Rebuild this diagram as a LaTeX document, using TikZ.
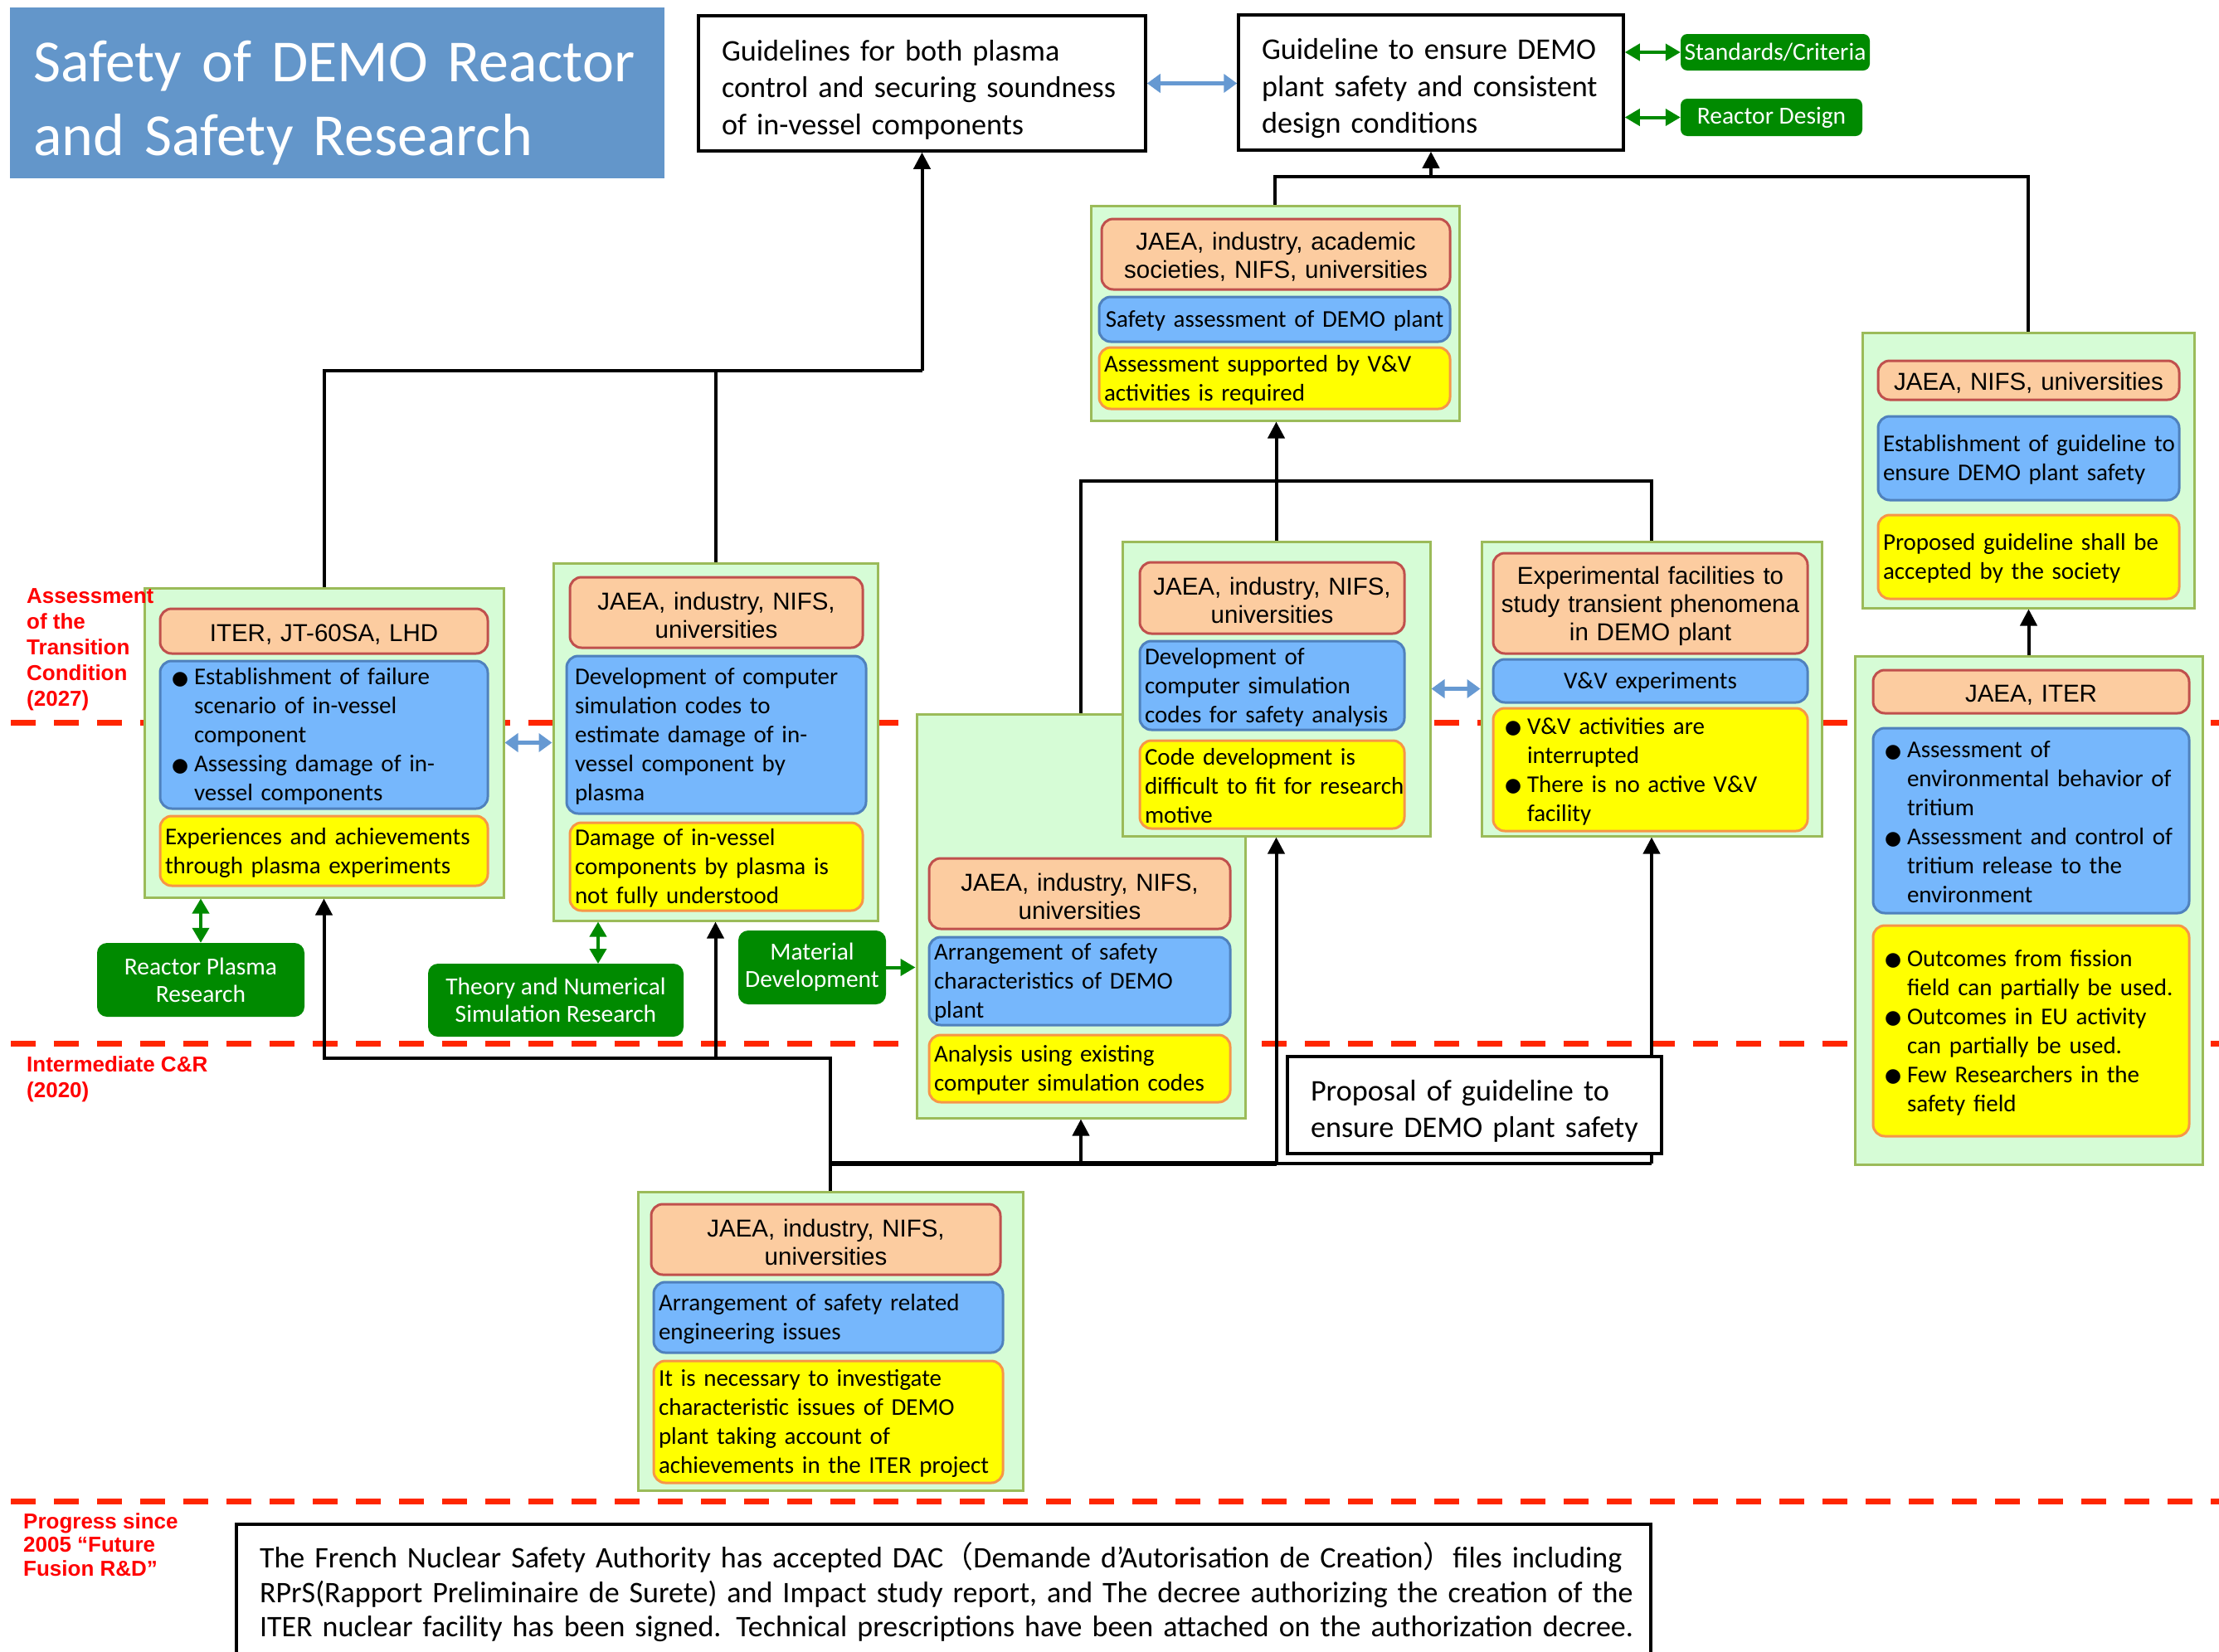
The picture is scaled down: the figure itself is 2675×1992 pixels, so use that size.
\documentclass[tikz,border=0pt]{standalone}
\usepackage{fontspec}
\setmainfont{Carlito}
\newfontfamily\arf{Liberation Sans}
\newfontfamily\djv{DejaVu Sans}
\newfontfamily\cjk{Noto Sans CJK JP}
\usetikzlibrary{arrows.meta}
\definecolor{contF}{RGB}{214,252,214}
\definecolor{contB}{RGB}{155,187,89}
\definecolor{hdrF}{RGB}{252,204,160}
\definecolor{hdrB}{RGB}{192,80,77}
\definecolor{blF}{RGB}{118,183,252}
\definecolor{blB}{RGB}{79,129,189}
\definecolor{ylF}{RGB}{255,255,0}
\definecolor{ylB}{RGB}{247,150,70}
\definecolor{gbt}{RGB}{0,138,0}
\definecolor{ttl}{RGB}{99,150,202}
\definecolor{dred}{RGB}{255,38,0}
\definecolor{lred}{RGB}{255,0,0}
\definecolor{barr}{RGB}{102,153,210}
\newcommand\cbf{\fontsize{29}{35}\selectfont}
\newcommand\arff{\arf\fontsize{29.5}{34}\selectfont}
\newcommand\gbf{\fontsize{29.5}{33}\selectfont}
\newcommand\bigf{\fontsize{36.2}{44.5}\selectfont}
\newcommand\ttlf{\fontsize{72}{89}\selectfont}
\newcommand\notef{\fontsize{36}{41.5}\selectfont}
\newcommand\bul{\hspace*{8pt}\makebox[27pt][l]{\djv\fontsize{23}{23}\selectfont\raisebox{0.5pt}{●}}}
\newcommand\hng{\hspace*{35pt}}
\tikzset{
  cont/.style 2 args={draw=contB, fill=contF, line width=3, minimum width=#1, minimum height=#2, inner sep=0},
  sub/.code 2 args={\pgfmathsetmacro\mytw{#1-12}\edef\mytmp{\noexpand\tikzset{minimum width=#1, minimum height=#2, text width=\mytw pt}}\mytmp\tikzset{line width=3, rounded corners=14, inner xsep=6, inner ysep=0, align=left, font=\cbf, text height=24pt}},
  hdr/.style 2 args={sub={#1}{#2}, draw=hdrB, fill=hdrF, align=center, font=\arff, text height=28pt},
  blu/.style 2 args={sub={#1}{#2}, draw=blB, fill=blF},
  yel/.style 2 args={sub={#1}{#2}, draw=ylB, fill=ylF},
  gbtn/.style 2 args={fill=gbt, text=white, rounded corners=12, minimum width=#1, minimum height=#2, inner sep=0, align=center, font=\gbf},
  wbox/.code 2 args={\pgfmathsetmacro\mytw{#1-56}\edef\mytmp{\noexpand\tikzset{minimum width=#1, minimum height=#2, text width=\mytw pt}}\mytmp\tikzset{draw=black, fill=white, line width=3.5, inner xsep=28, inner ysep=0, align=left, font=\bigf, text height=40pt}},
  lab/.style={align=left, inner sep=0, text=lred, anchor=north west},
  redline/.style={draw=dred, line width=7, dash pattern=on 30pt off 22pt},
  conn/.style={draw=black, line width=4},
  trunk/.style={draw=black, line width=6},
  arr/.style={-{Triangle[length=20pt,width=20pt]}},
  bdarr/.style={draw=barr, line width=5, {Triangle[length=16pt,width=22pt]}-{Triangle[length=16pt,width=22pt]}},
  gdarr/.style={draw=gbt, line width=4, {Triangle[length=18pt,width=20pt]}-{Triangle[length=18pt,width=20pt]}},
  garr/.style={draw=gbt, line width=4, -{Triangle[length=18pt,width=20pt]}}
}
\begin{document}
\begin{tikzpicture}[x=1pt,y=-1pt]
\useasboundingbox (0,0) rectangle (2675,1992);
\clip (0,0) rectangle (2675,1992);
\fill[white] (0,0) rectangle (2675,1992);

% time lines
\draw[redline] (13,871) -- (2675,871);
\draw[redline] (13,1258) -- (2675,1258);
\draw[redline] (13,1810) -- (2675,1810);

% title
\node[fill=ttl, minimum width=789, minimum height=206, text width=733pt, inner xsep=28, inner ysep=0, align=left, text=white, font=\ttlf, text height=74pt] (title) at (406.5,112) {\mbox{Safety of DEMO Reactor}\\\mbox{and Safety Research}};

% top guideline boxes
\node[wbox={539}{163}] (g1) at (1111.5,100.5) {\mbox{Guidelines for both plasma}\\\mbox{control and securing soundness}\\\mbox{of in-vessel components}};
\node[wbox={464}{163}] (g2) at (1725,99.5) {\mbox{Guideline to ensure DEMO}\\\mbox{plant safety and consistent}\\\mbox{design conditions}};
\node[gbtn={228}{44}, rounded corners=8] (std) at (2140,63) {Standards/Criteria};
\node[gbtn={219}{45}, rounded corners=8] (rdes) at (2135.5,141.5) {Reactor Design};

% academic container
\node[cont={444}{259}] (acad) at (1537,377.5) {};
\node[hdr={420}{85}] (acadh) at (1538,306.5) {JAEA, industry, academic\\societies, NIFS, universities};
\node[blu={423}{54}, align=center] (acadb) at (1536.5,385) {\mbox{Safety assessment of DEMO plant}};
\node[yel={423}{74}] (acady) at (1536.5,456) {\mbox{Assessment supported by V\&V}\\\mbox{activities is required}};

% ITER container
\node[cont={433}{373}] (iter) at (390.5,895.5) {};
\node[hdr={395}{54}] (iterh) at (390.5,761) {ITER, JT-60SA, LHD};
\node[blu={395}{178}] (iterb) at (390.5,886) {\bul\mbox{Establishment of failure}\\\hng\mbox{scenario of in-vessel}\\\hng\mbox{component}\\\bul\mbox{Assessing damage of in-}\\\hng\mbox{vessel components}};
\node[yel={395}{84}] (itery) at (390.5,1026) {\mbox{Experiences and achievements}\\\mbox{through plasma experiments}};

% second left container
\node[cont={391}{431}] (ltwo) at (862.5,894.5) {};
\node[hdr={353}{85}] (ltwoh) at (863.5,738.5) {JAEA, industry, NIFS,\\universities};
\node[blu={353}{190}, inner xsep=10] (ltwob) at (863.5,886) {\mbox{Development of computer}\\\mbox{simulation codes to}\\\mbox{estimate damage of in-}\\\mbox{vessel component by}\\\mbox{plasma}};
\node[yel={353}{106}] (ltwoy) at (863.5,1045) {\mbox{Damage of in-vessel}\\\mbox{components by plasma is}\\\mbox{not fully understood}};

% green research buttons
\node[gbtn={250}{89}] (rpr) at (242,1181.5) {Reactor Plasma\\Research};
\node[gbtn={308}{88}] (tns) at (670,1206) {Theory and Numerical\\Simulation Research};
\node[gbtn={178}{89}] (mat) at (979,1166.5) {Material\\Development};

% middle container
\node[cont={396}{487}] (mid) at (1303,1104.5) {};
\node[hdr={363}{85}] (midh) at (1301.5,1077.5) {JAEA, industry, NIFS,\\universities};
\node[blu={363}{106}] (midb) at (1301.5,1183) {\mbox{Arrangement of safety}\\\mbox{characteristics of DEMO}\\\mbox{plant}};
\node[yel={363}{81}] (midy) at (1301.5,1288.5) {\mbox{Analysis using existing}\\\mbox{computer simulation codes}};

% development container
\node[cont={371}{355}] (dev) at (1538.5,830.5) {};
\node[hdr={319}{86}] (devh) at (1533.5,721) {JAEA, industry, NIFS,\\universities};
\node[blu={319}{107}] (devb) at (1533.5,826.5) {\mbox{Development of}\\\mbox{computer simulation}\\\mbox{codes for safety analysis}};
\node[yel={319}{106}] (devy) at (1533.5,946) {\mbox{Code development is}\\\mbox{difficult to fit for research}\\\mbox{motive}};

% V&V container
\node[cont={410}{355}] (vv) at (1991,830.5) {};
\node[hdr={379}{121}] (vvh) at (1989.5,727.5) {Experimental facilities to\\study transient phenomena\\in DEMO plant};
\node[blu={379}{52}, align=center] (vvb) at (1989.5,821) {V\&V experiments};
\node[yel={379}{148}] (vvy) at (1989.5,928) {\bul\mbox{V\&V activities are}\\\hng\mbox{interrupted}\\\bul\mbox{There is no active V\&V}\\\hng\mbox{facility}};

% right upper container
\node[cont={400}{332}] (ru) at (2445,567) {};
\node[hdr={363}{47}] (ruh) at (2445.5,458.5) {JAEA, NIFS, universities};
\node[blu={363}{101}] (rub) at (2445.5,552.5) {\mbox{Establishment of guideline to}\\\mbox{ensure DEMO plant safety}};
\node[yel={363}{101}] (ruy) at (2445.5,671.5) {\mbox{Proposed guideline shall be}\\\mbox{accepted by the society}};

% right lower container
\node[cont={419}{613}] (rl) at (2445.5,1097.5) {};
\node[hdr={381}{52}] (rlh) at (2448.5,834) {JAEA, ITER};
\node[blu={381}{223}] (rlb) at (2448.5,989.5) {\bul\mbox{Assessment of}\\\hng\mbox{environmental behavior of}\\\hng\mbox{tritium}\\\bul\mbox{Assessment and control of}\\\hng\mbox{tritium release to the}\\\hng\mbox{environment}};
\node[yel={381}{254}] (rly) at (2448.5,1243) {\bul\mbox{Outcomes from fission}\\\hng\mbox{field can partially be used.}\\\bul\mbox{Outcomes in EU activity}\\\hng\mbox{can partially be used.}\\\bul\mbox{Few Researchers in the}\\\hng\mbox{safety field}};

% bottom container
\node[cont={464}{360}] (bot) at (1001,1617) {};
\node[hdr={421}{85}] (both) at (995.5,1494.5) {JAEA, industry, NIFS,\\universities};
\node[blu={421}{85}] (botb) at (998.5,1588.5) {\mbox{Arrangement of safety related}\\\mbox{engineering issues}};
\node[yel={421}{147}] (boty) at (998.5,1714.5) {\mbox{It is necessary to investigate}\\\mbox{characteristic issues of DEMO}\\\mbox{plant taking account of}\\\mbox{achievements in the ITER project}};

% labels (over the containers)
\node[lab, font=\arf\bfseries\fontsize{26}{31}\selectfont] (labA) at (32,709) {Assessment\\of the\\Transition\\Condition\\(2027)};
\node[lab, font=\arf\bfseries\fontsize{26}{31}\selectfont] (labB) at (32,1273) {Intermediate C\&R\\(2020)};
\node[lab, font=\arf\bfseries\fontsize{26}{28.5}\selectfont] (labC) at (28,1824) {Progress since\\2005 “Future\\Fusion R\&D”};

% connectors
\coordinate (ta) at (1111.5,447);
\draw[conn] (iter.north) |- (ta);
\draw[conn] (ltwo.north) -- (ltwo.north |- ta);
\draw[conn, arr] (ta) -- (ta |- g1.south);

\coordinate (tb) at (1725,213);
\draw[conn] (acad.north) |- (ru.north |- tb) -- (ru.north);
\draw[conn, arr] (tb) -- (g2.south);

\coordinate (tc) at (1303,580);
\draw[conn] (mid.north) |- (vv.north |- tc) -- (vv.north);
\draw[conn, arr] (dev.north) -- (dev.north |- acad.south);

\draw[conn, arr] (rl.north) -- (rl.north |- ru.south);

\coordinate (td) at (1001,1276);
\coordinate (te) at (1001,1403);
\draw[conn, arr] (bot.north) |- (iter.south |- td) -- (iter.south);
\draw[conn, arr] (ltwo.south |- td) -- (ltwo.south);
\draw[trunk] (te) -- (dev.south |- te);
\draw[conn] (dev.south |- te) -- (vv.south |- te);
\draw[conn, arr] (mid.south |- te) -- (mid.south);
\draw[conn, arr] (dev.south |- te) -- (dev.south);
\draw[conn, arr] (vv.south |- te) -- (vv.south);

% proposal box (drawn over the line)
\node[wbox={451}{117}] (prop) at (1777.5,1332.5) {\mbox{Proposal of guideline to}\\\mbox{ensure DEMO plant safety}};

% double arrows
\draw[bdarr] (g1.east) -- (g1.east -| g2.west);
\draw[bdarr] (iter.east) -- (iter.east -| ltwo.west);
\draw[bdarr] (dev.east) -- (dev.east -| vv.west);
\draw[gdarr] (g2.east |- std.west) -- (std.west);
\draw[gdarr] (g2.east |- rdes.west) -- (rdes.west);
\draw[gdarr] (rpr.north |- iter.south) -- (rpr.north);
\coordinate (ga) at (721,1162);
\draw[gdarr] (ga |- ltwo.south) -- (ga);
\draw[garr] (mat.east) -- (mat.east -| mid.west);

% bottom note
\node[anchor=north, draw=black, fill=white, line width=3.5, minimum width=1705, text width=1649pt, inner xsep=28, inner ysep=22, align=left, font=\notef] (note) at (1137.5,1836) {\mbox{The French Nuclear Safety Authority has accepted DAC{\cjk（}Demande d’Autorisation de Creation{\cjk）}files including}\\\mbox{RPrS(Rapport Preliminaire de Surete) and Impact study report, and The decree authorizing the creation of the}\\\mbox{ITER nuclear facility has been signed. Technical prescriptions have been attached on the authorization decree.}};
\end{tikzpicture}
\end{document}
